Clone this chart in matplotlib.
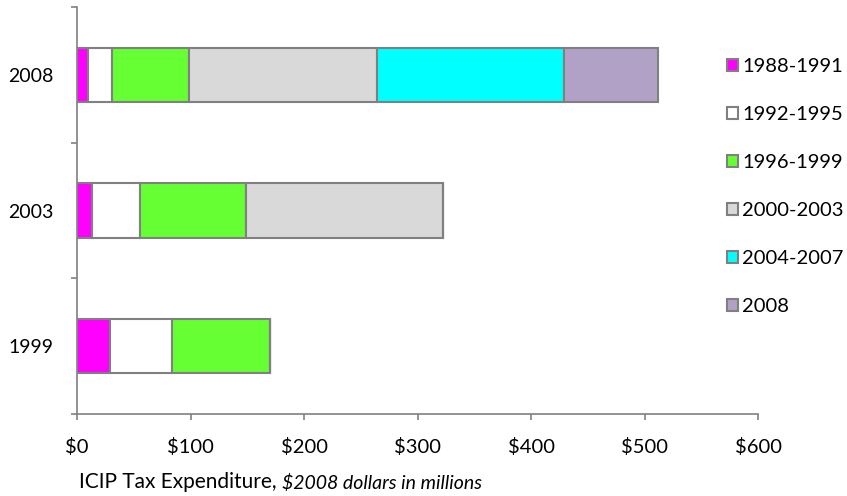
import numpy as np
import matplotlib
matplotlib.use('Agg')
import matplotlib.pyplot as plt
from matplotlib.ticker import FuncFormatter

plt.rcParams['font.family'] = ['Lato', 'DejaVu Sans']

### data ###

years = ['1999', '2003', '2008']
periods = ['1988-1991', '1992-1995', '1996-1999', '2000-2003', '2004-2007', '2008']

# tax expenditure by vintage of credit, $2008 millions
v_1988_1991 = [29.1, 13.2, 9.4]
v_1992_1995 = [54.9, 42.3, 21.4]
v_1996_1999 = [85.8, 93.4, 67.6]
v_2000_2003 = [0, 173.8, 165.7]
v_2004_2007 = [0, 0, 164.7]
v_2008 = [0, 0, 83.1]

colors = ['#FF00FF', '#FFFFFF', '#66FF33', '#D9D9D9', '#00FFFF', '#B2A1C7']

series = [v_1988_1991, v_1992_1995, v_1996_1999, v_2000_2003, v_2004_2007, v_2008]

### plot ###

fig = plt.figure(figsize=(8.47, 4.96), dpi=100)
ax = fig.add_axes([77/847, 82/496, 681/847, 407/496])

ypos = np.arange(len(years))
left = np.zeros(len(years))
for vals, col, lab in zip(series, colors, periods):
    vals = np.array(vals)
    ax.barh(ypos, vals, left=left, height=0.4, color=col,
            edgecolor='#808080', linewidth=1.5, label=lab)
    left += vals

ax.set_xlim(0, 600)
ax.set_ylim(-0.5, 2.5)
ax.set_xticks(np.arange(0, 601, 100))
ax.xaxis.set_major_formatter(FuncFormatter(lambda v, p: '\\$%d' % v))

ax.set_yticks(ypos)
ax.set_yticklabels(years)
ax.set_yticks([-0.5, 0.5, 1.5, 2.5], minor=True)
ax.tick_params(axis='y', which='major', length=0, pad=17, labelsize=14)
ax.tick_params(axis='y', which='minor', length=4, width=1.2, color='#808080')
ax.tick_params(axis='x', length=4.3, width=1.2, color='#808080', pad=13,
               labelsize=14.5)

for s in ['top', 'right']:
    ax.spines[s].set_visible(False)
for s in ['left', 'bottom']:
    ax.spines[s].set_color('#808080')
    ax.spines[s].set_linewidth(1.2)

leg = ax.legend(loc='upper left', bbox_to_anchor=(727/847, 1 - 58/496),
                bbox_transform=fig.transFigure, frameon=False, fontsize=14.5,
                handlelength=0.55, handleheight=0.55, handletextpad=0.2,
                labelspacing=1.54, borderaxespad=0, borderpad=0)

# axis title, second half in italics
t1 = fig.text(79/847, 1 - 482/496, 'ICIP Tax Expenditure, ', fontsize=15,
              va='center')
fig.canvas.draw()
ax.annotate('\\$2008 dollars in millions', xy=(1, 0), xycoords=t1,
            va='bottom', fontsize=14, style='italic')

fig.savefig('out.png', dpi=100)
